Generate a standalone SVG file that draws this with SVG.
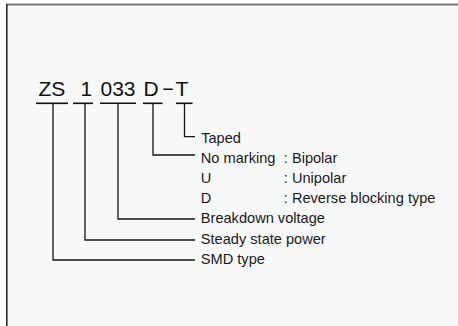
<svg xmlns="http://www.w3.org/2000/svg" width="458" height="326" viewBox="0 0 458 326">
<style>
.t{font-family:"Liberation Sans",Arial,sans-serif;font-size:21px;fill:#111}
.l{font-family:"Liberation Sans",Arial,sans-serif;font-size:14.6px;fill:#1a1a1a}
.ln{fill:none;stroke:#151515;stroke-width:1.3}
.ul{stroke:#111;stroke-width:1.6}
</style>
<rect x="0" y="0" width="458" height="326" fill="#ffffff"/>
<rect x="6" y="4" width="452" height="322" fill="#f7f8f8"/>
<line x1="6" y1="4.5" x2="458" y2="4.5" stroke="#7a7a7a" stroke-width="2"/>
<line x1="6.8" y1="4" x2="6.8" y2="326" stroke="#2a2a2a" stroke-width="1.6"/>
<g id="code">
<text class="t" x="38.5" y="95.5">ZS</text>
<text class="t" x="86.3" y="95.5" text-anchor="middle">1</text>
<text class="t" x="100.5" y="95.5">033</text>
<text class="t" x="143.4" y="95.5">D</text>
<text class="t" x="161.5" y="94.5" textLength="13" lengthAdjust="spacingAndGlyphs">-</text>
<text class="t" x="175.5" y="95.5">T</text>
<line class="ul" x1="36" y1="103.3" x2="68" y2="103.3"/>
<line class="ul" x1="73" y1="103.3" x2="93" y2="103.3"/>
<line class="ul" x1="100" y1="103.3" x2="136" y2="103.3"/>
<line class="ul" x1="143" y1="103.3" x2="162.5" y2="103.3"/>
<line class="ul" x1="176" y1="103.3" x2="192.5" y2="103.3"/>
</g>
<g id="connectors">
<path class="ln" d="M184.5 103 V136.7 H195"/>
<path class="ln" d="M153 103 V155 H195"/>
<path class="ln" d="M118 103 V219 H195"/>
<path class="ln" d="M85 103 V240 H195"/>
<path class="ln" d="M53 103 V260 H195"/>
</g>
<g id="taped"><text class="l" x="201.2" y="142.5">Taped</text></g>
<g id="polarity">
<text class="l" x="200.8" y="162.7">No marking</text>
<text class="l" x="283.8" y="162.7">: Bipolar</text>
<text class="l" x="200.8" y="182.9">U</text>
<text class="l" x="283.8" y="182.9">: Unipolar</text>
<text class="l" x="200.8" y="203.1">D</text>
<text class="l" x="283.8" y="203.1">: Reverse blocking type</text>
</g>
<g id="breakdown"><text class="l" x="200.8" y="223.3">Breakdown voltage</text></g>
<g id="power"><text class="l" x="200.8" y="243.5">Steady state power</text></g>
<g id="smd"><text class="l" x="200.8" y="263.7">SMD type</text></g>
</svg>
